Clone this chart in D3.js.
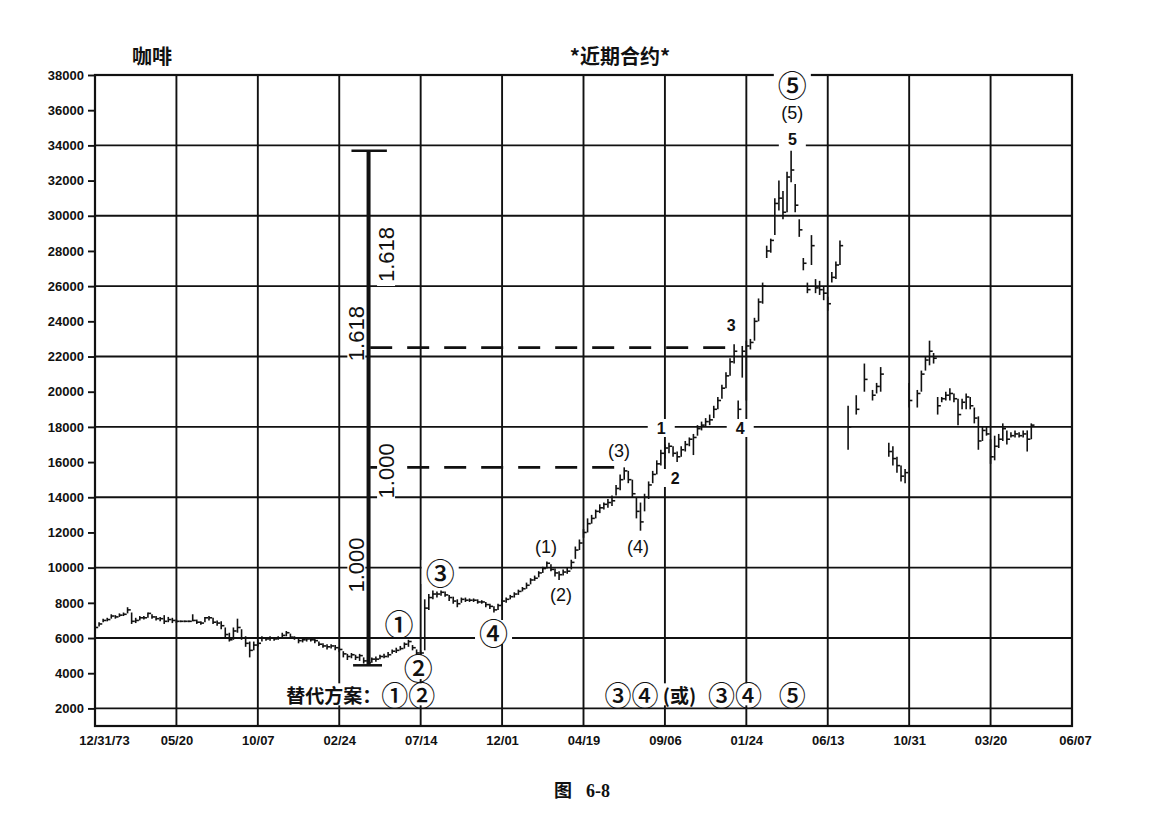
<!DOCTYPE html>
<html><head><meta charset="utf-8">
<script src="https://cdn.jsdelivr.net/npm/d3@7"></script>
<style>body{margin:0;background:#fff}svg{display:block}</style>
</head><body>
<svg id="c" width="1162" height="817"></svg>
<script>
// ---------- DATA ----------
const dateLabels = ["12/31/73","05/20","10/07","02/24","07/14","12/01","04/19","09/06","01/24","06/13","10/31","03/20","06/07"];
const dateWeeks  = [0,20,40,60,80,100,120,140,160,180,200,220,240];
const yTickValues = [2000,4000,6000,8000,10000,12000,14000,16000,18000,20000,22000,24000,26000,28000,30000,32000,34000,36000,38000];
const yGridValues = [2000,6000,10000,14000,18000,22000,26000,30000,34000];

// weekly bars (week index = position in array), null = no bar in picture
const highs = [
6750,6900,7100,7150,7350,7300,7400,7450,7750,7450,
7150,7250,7250,7450,7350,7250,7200,7300,7200,7150,
7050,7000,7000,7000,7350,7050,6950,7200,7250,7150,
7000,6950,6600,6300,6600,7100,6500,6100,5800,5800,
5900,6100,6050,6100,6050,6100,6300,6400,6250,6100,
6000,6000,6050,6000,5950,5800,5700,5650,5650,5600,
5500,5250,5100,5150,5050,5100,4900,4800,4900,4950,
5050,5100,5200,5350,5450,5550,5750,5900,5600,5350,
5300,8200,8500,8700,8650,8700,8650,8450,8350,8200,
8300,8300,8250,8250,8200,8150,8050,7950,7800,7950,
8200,8300,8450,8600,8750,8900,9150,9400,9550,9800,
10050,10350,10200,9950,9800,9900,10000,10450,11200,11600,
12200,12800,13000,13300,13600,13700,13900,14100,14700,15300,
15700,15500,15000,14000,13700,14200,14900,15500,16100,16700,
17000,17100,16900,16600,16900,17200,17400,17600,18100,18300,
18500,18700,19200,19700,20400,21100,21900,22700,19500,22600,
22900,23000,24200,25300,26200,28300,28700,31000,32000,31400,
32500,33700,31800,29800,27600,26200,28900,26400,26300,26000,
25400,26800,27400,28600,null,19200,null,19800,null,21600,
null,20100,20500,21400,null,17100,16900,16300,15800,15600,
20500,null,20100,21200,22000,22900,22200,19700,19700,20000,
20200,19900,19600,19600,19900,19700,19100,18600,18000,18000,
17300,17500,17600,18200,17800,17700,17800,17700,17800,17800,
18200];
const lows = [
6500,6650,6900,6950,7100,7100,7200,7250,7400,6800,
6850,7000,7050,7150,7100,7000,6950,6800,6900,6850,
6850,6900,6900,6900,6950,6800,6750,6900,7000,6800,
6700,6500,6000,5800,5900,6300,5900,5500,4900,5300,
5500,5800,5850,5850,5850,5900,6000,6100,5950,5900,
5700,5750,5800,5800,5700,5550,5450,5350,5400,5300,
5200,4900,4750,4850,4750,4700,4550,4450,4600,4650,
4800,4850,4900,5100,5150,5300,5400,5500,5300,5050,
5050,5300,7600,8200,8300,8400,8350,8100,7950,7750,
8000,8050,8050,8050,7950,7950,7750,7650,7450,7600,
7850,8000,8200,8300,8450,8650,8800,9050,9250,9450,
9700,9950,9800,9500,9300,9550,9650,9900,10500,11000,
11700,12000,12500,12800,13100,13300,13400,13500,14100,14400,
15000,14800,14000,12800,12100,13200,13900,14800,15300,15800,
16200,16500,16300,16000,16300,16600,16900,16400,17500,17800,
18000,18100,18500,19000,19600,20200,20900,21600,18400,20800,
19500,22400,22900,24000,25000,27600,27900,28900,30300,29800,
30200,31900,30200,28800,26900,25600,27200,25600,25500,25200,
24600,26200,26400,27200,null,16700,null,18700,null,20000,
null,19500,19900,20000,null,16300,15800,15400,14900,14800,
19100,null,19100,20000,21200,21500,21600,18700,19400,19500,
19500,19400,18100,19000,19000,19000,18200,16700,17200,17500,
15900,16100,16800,17200,17000,17400,17400,17400,17400,16600,
17300];
const closes = [
6600,6800,7000,7050,7250,7200,7300,7350,7600,6950,
7000,7150,7150,7400,7200,7100,7100,6950,7050,7000,
6950,6950,6950,6950,7000,6900,6850,7150,7150,6900,
6850,6700,6200,5900,6400,6600,6000,5700,5300,5600,
5700,6000,5950,6000,5950,6000,6150,6300,6050,6000,
5850,5900,5950,5900,5850,5650,5550,5500,5550,5450,
5350,5100,4950,5050,4900,5000,4700,4600,4800,4800,
4950,4950,5050,5250,5300,5400,5650,5800,5450,5150,
5150,7700,8300,8500,8500,8600,8450,8300,8100,7950,
8200,8150,8150,8150,8050,8050,7900,7800,7600,7850,
8100,8200,8350,8500,8650,8800,9000,9300,9400,9700,
9950,10250,9900,9700,9600,9750,9800,10300,11000,11400,
12000,12500,12800,13200,13400,13600,13700,13800,14500,15000,
15500,15000,14200,13200,12600,14000,14700,15300,15900,16500,
16800,16900,16500,16300,16700,17000,17300,17400,17900,18100,
18300,18400,19000,19500,20200,20900,21700,22300,19000,22300,
22600,22800,24000,25100,26000,28000,28600,30700,31000,30200,
32200,32600,30600,29200,27300,25800,28300,25900,25800,25600,
25000,26500,27200,28300,null,18000,null,19000,null,20700,
null,19800,20300,21000,null,16600,16200,15800,15200,15400,
19500,null,19900,21000,21800,22300,21900,19200,19600,19800,
19900,19600,18700,19400,19700,19200,18500,17200,17800,17600,
16300,16900,17300,17900,17300,17500,17600,17500,17600,17300,
18100];

// Fibonacci projection (week, low, high) and ratio levels
const fibWeek = 67.2, fibLow = 4450, fibHigh = 33700;
const fibCapsTop = [63, 71.7], fibCapsBottom = [63.4, 70.5];
const fibLevels = [{v:22500, w0:67.6, w1:157.2}, {v:15700, w0:67.6, w1:127.8}];
const fibTexts = [
  {t:"1.618", w:71.5, v:27800}, {t:"1.618", w:64.2, v:23300},
  {t:"1.000", w:71.5, v:15500}, {t:"1.000", w:64.2, v:10150}];

// wave annotations (week, price)
const waveLabels = [
  {t:"①", w:74.7, v:6850, k:"c"}, {t:"②", w:79.4, v:4350, k:"c"},
  {t:"③", w:84.8, v:9753, k:"c"}, {t:"④", w:97.9, v:6343, k:"c"},
  {t:"(1)", w:110.8, v:11174, k:"p"}, {t:"(2)", w:114.5, v:8446, k:"p"},
  {t:"(3)", w:128.7, v:16631, k:"p"}, {t:"(4)", w:133.4, v:11174, k:"p"},
  {t:"1", w:139.1, v:17938, k:"n"}, {t:"2", w:142.5, v:15096, k:"n"},
  {t:"3", w:156.3, v:23793, k:"n"}, {t:"4", w:158.5, v:17938, k:"n"},
  {t:"5", w:171.3, v:34380, k:"n"}, {t:"(5)", w:171.3, v:35843, k:"p"},
  {t:"⑤", w:171.3, v:37500, k:"c"},
  {t:"替代方案：①②", w:65.3, v:2800, k:"b"},
  {t:"③④ (或)", w:136.4, v:2800, k:"b"},
  {t:"③④", w:157.2, v:2800, k:"b"},
  {t:"⑤", w:171.3, v:2800, k:"b"}];

// ---------- DRAW ----------
const svg = d3.select("#c");
const x = d3.scaleLinear().domain([0,240]).range([95,1072]);
const y = d3.scaleLinear().domain([1000,38000]).range([726,75]);
const ink = "#111";

// grid
const g = svg.append("g");
g.selectAll(".hg").data(yGridValues).join("line")
  .attr("x1", x(0)).attr("x2", x(240)).attr("y1", d=>y(d)).attr("y2", d=>y(d))
  .attr("stroke", ink).attr("stroke-width", 1.9);
g.selectAll(".vg").data(dateWeeks).join("line")
  .attr("x1", d=>x(d)).attr("x2", d=>x(d)).attr("y1", y(38000)).attr("y2", y(1000))
  .attr("stroke", ink).attr("stroke-width", 1.9);
g.append("rect").attr("x", x(0)).attr("y", y(38000)).attr("width", x(240)-x(0)).attr("height", y(1000)-y(38000))
  .attr("fill","none").attr("stroke", ink).attr("stroke-width", 2.2);

// axes
const ya = svg.append("g").attr("transform", `translate(${x(0)},0)`)
  .call(d3.axisLeft(y).tickValues(yTickValues).tickSize(7).tickPadding(4).tickFormat(d=>d));
ya.select(".domain").remove();
ya.selectAll("line").attr("stroke", ink).attr("stroke-width", 1.9);
ya.selectAll("text").attr("font-family","Liberation Sans, Arial, sans-serif").attr("font-size", 13).attr("font-weight","bold").attr("fill", ink);

const xa = svg.append("g").attr("transform", `translate(0,${y(1000)})`)
  .call(d3.axisBottom(x).tickValues(dateWeeks).tickSize(0).tickPadding(10).tickFormat((d,i)=>dateLabels[i]));
xa.select(".domain").remove();
xa.selectAll("text").attr("font-family","Liberation Sans, Arial, sans-serif").attr("font-size", 13).attr("font-weight","bold").attr("fill", ink)
  .attr("dx", (d,i)=> i===0 ? 9 : (i===dateWeeks.length-1 ? 3 : 0));

// bars (HLC)
const bars = highs.map((h,i)=>({w:i, h, l:lows[i], c:closes[i]})).filter(d=>d.h!=null);
const bg = svg.append("g").attr("stroke", ink).attr("stroke-width", 1.6);
bg.selectAll(".hl").data(bars).join("line")
  .attr("x1", d=>x(d.w)).attr("x2", d=>x(d.w)).attr("y1", d=>y(d.h)).attr("y2", d=>y(d.l));
bg.selectAll(".cl").data(bars).join("line")
  .attr("x1", d=>x(d.w)).attr("x2", d=>x(d.w)+3.2).attr("y1", d=>y(d.c)).attr("y2", d=>y(d.c));

// dashed ratio levels
svg.selectAll(".fl").data(fibLevels).join("line")
  .attr("x1", d=>x(d.w0)).attr("x2", d=>x(d.w1)).attr("y1", d=>y(d.v)).attr("y2", d=>y(d.v))
  .attr("stroke", ink).attr("stroke-width", 2.8).attr("stroke-dasharray", "22,15");

// layers: white label backgrounds, fib line, then texts
const bgLayer = svg.append("g");
const fibLayer = svg.append("g");
const txtLayer = svg.append("g");

const circled = /[①②③④⑤]/;
function label(txt, cx, cy, o) {
  const t = txtLayer.append("text")
    .attr("x", cx).attr("y", cy)
    .attr("text-anchor","middle").attr("dominant-baseline","central")
    .attr("font-family", o.family).attr("font-size", o.size)
    .attr("font-weight", o.weight || "normal").attr("fill", ink);
  const runs = [];
  for (const ch of txt) {
    const isC = circled.test(ch);
    if (runs.length && runs[runs.length-1].c === isC) runs[runs.length-1].s += ch;
    else runs.push({s:ch, c:isC});
  }
  runs.forEach(r => {
    const ts = t.append("tspan").text(r.s);
    if (r.c) ts.attr("font-size", o.csize).attr("font-weight", 500)
      .attr("font-family","Noto Sans CJK SC, sans-serif");
  });
  if (o.rotate) t.attr("transform", `rotate(-90,${cx},${cy})`);
  const w = t.node().getBBox().width + 2*o.px;
  const h = o.bh;
  if (o.rotate) bgLayer.append("rect").attr("x", cx-h/2).attr("y", cy-w/2).attr("width", h).attr("height", w).attr("fill","#fff");
  else bgLayer.append("rect").attr("x", cx-w/2).attr("y", cy-h/2).attr("width", w).attr("height", h).attr("fill","#fff");
}
fibTexts.forEach(d => label(d.t, x(d.w), y(d.v),
  {family:"Liberation Sans, Arial, sans-serif", size:22, px:4, bh:18, rotate:true}));

fibLayer.append("line").attr("x1", x(fibWeek)).attr("x2", x(fibWeek)).attr("y1", y(fibHigh)).attr("y2", y(fibLow))
  .attr("stroke", ink).attr("stroke-width", 4);
fibLayer.append("line").attr("x1", x(fibCapsTop[0])).attr("x2", x(fibCapsTop[1])).attr("y1", y(fibHigh)).attr("y2", y(fibHigh))
  .attr("stroke", ink).attr("stroke-width", 2.5);
fibLayer.append("line").attr("x1", x(fibCapsBottom[0])).attr("x2", x(fibCapsBottom[1])).attr("y1", y(fibLow)).attr("y2", y(fibLow))
  .attr("stroke", ink).attr("stroke-width", 2.5);

const styles = {
  c:{family:"Noto Sans CJK SC, sans-serif", size:29, csize:29, px:4, bh:24},
  p:{family:"Liberation Sans, Arial, sans-serif", size:18, px:4, bh:20},
  n:{family:"Liberation Sans, Arial, sans-serif", size:16, weight:"bold", px:9, bh:18},
  b:{family:"Noto Sans CJK SC, sans-serif", size:19, csize:27, weight:"bold", px:4, bh:22}};
waveLabels.forEach(d => label(d.t, x(d.w), y(d.v), styles[d.k]));

// titles
svg.append("text").text("咖啡").attr("x", 152).attr("y", 55).attr("text-anchor","middle").attr("dominant-baseline","central")
  .attr("font-family","Noto Sans CJK SC, sans-serif").attr("font-size", 20).attr("font-weight","bold").attr("fill", ink);
svg.append("text").text("*近期合约*").attr("x", 620).attr("y", 55).attr("text-anchor","middle").attr("dominant-baseline","central")
  .attr("font-family","Noto Sans CJK SC, sans-serif").attr("font-size", 20).attr("font-weight","bold").attr("fill", ink);
const cap = svg.append("text").attr("y", 791).attr("dominant-baseline","central")
  .attr("font-family","Liberation Serif, Noto Sans CJK SC, serif").attr("font-size", 18).attr("font-weight","bold").attr("fill", ink);
cap.append("tspan").attr("x", 554).text("图");
cap.append("tspan").attr("x", 586).text("6-8");
</script>
</body></html>
